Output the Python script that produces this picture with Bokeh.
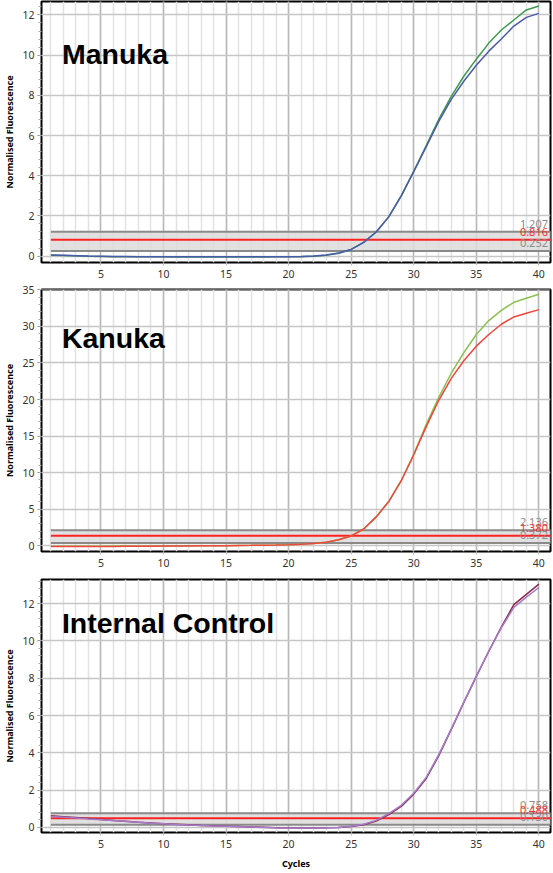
from bokeh.plotting import figure
from bokeh.layouts import column
from bokeh.models import Range1d, SingleIntervalTicker, Label, ColumnDataSource
from bokeh.core.properties import value
from bokeh.embed import file_html
from bokeh.resources import INLINE

CYCLES = list(range(1, 41))

MANUKA_BLUE = [0.05, 0.04, 0.02, 0.0, -0.01, -0.02, -0.02, -0.03, -0.03, -0.03,
               -0.04, -0.04, -0.04, -0.04, -0.04, -0.04, -0.04, -0.04, -0.03, -0.03,
               -0.02, 0.0, 0.05, 0.15, 0.33, 0.68, 1.2, 1.95, 3.0, 4.2,
               5.45, 6.7, 7.8, 8.7, 9.5, 10.2, 10.8, 11.45, 11.88, 12.08]
MANUKA_GREEN = [0.04, 0.03, 0.01, -0.01, -0.02, -0.03, -0.03, -0.04, -0.04, -0.04,
                -0.05, -0.05, -0.05, -0.05, -0.05, -0.05, -0.05, -0.05, -0.04, -0.04,
                -0.03, -0.01, 0.04, 0.14, 0.33, 0.68, 1.2, 1.95, 3.0, 4.22,
                5.5, 6.8, 7.95, 8.95, 9.8, 10.6, 11.25, 11.75, 12.25, 12.45]
MANUKA_THRESH = [0.252, 0.816, 1.207]

KANUKA_RED = [-0.1, -0.1, -0.1, -0.1, -0.09, -0.08, -0.07, -0.06, -0.05, -0.04,
              -0.03, -0.02, -0.01, 0.0, 0.02, 0.04, 0.06, 0.09, 0.12, 0.16,
              0.22, 0.32, 0.5, 0.82, 1.35, 2.3, 3.95, 6.05, 8.9, 12.45,
              16.3, 19.9, 22.9, 25.3, 27.3, 28.9, 30.3, 31.3, 31.8, 32.3]
KANUKA_GREEN = [-0.05, -0.05, -0.05, -0.05, -0.05, -0.04, -0.04, -0.03, -0.03, -0.02,
                -0.02, -0.01, 0.0, 0.01, 0.02, 0.04, 0.06, 0.09, 0.12, 0.16,
                0.22, 0.32, 0.5, 0.82, 1.35, 2.3, 3.95, 6.05, 8.9, 12.5,
                16.6, 20.3, 23.6, 26.4, 28.9, 30.8, 32.2, 33.3, 33.85, 34.4]
KANUKA_THRESH = [0.372, 1.380, 2.136]

IC_RED = [0.62, 0.57, 0.52, 0.47, 0.42, 0.37, 0.32, 0.27, 0.23, 0.19,
          0.16, 0.13, 0.1, 0.08, 0.06, 0.04, 0.02, 0.0, -0.02, -0.03,
          -0.04, -0.04, -0.03, -0.01, 0.04, 0.14, 0.33, 0.68, 1.12, 1.78,
          2.62, 3.85, 5.25, 6.7, 8.1, 9.45, 10.75, 11.95, 12.5, 13.05]
IC_PURPLE = [0.58, 0.54, 0.5, 0.45, 0.41, 0.36, 0.31, 0.27, 0.22, 0.19,
             0.15, 0.12, 0.09, 0.07, 0.05, 0.03, 0.01, -0.01, -0.03, -0.04,
             -0.04, -0.04, -0.03, -0.01, 0.05, 0.16, 0.37, 0.73, 1.18, 1.83,
             2.68, 3.9, 5.28, 6.72, 8.1, 9.45, 10.7, 11.8, 12.35, 12.87]
IC_THRESH = [0.130, 0.488, 0.758]

X_START, X_END = 0.25, 40.93
FONT = "Noto Sans"


def make_panel(title, title_y, series, colors, thresh, y_range, y_step,
               height, top, bottom, xlabel=None):
    p = figure(width=552, height=height, output_backend="svg", toolbar_location=None,
               x_range=Range1d(X_START, X_END), y_range=Range1d(*y_range),
               min_border_left=35, min_border_right=2, min_border_top=top,
               min_border_bottom=bottom, background_fill_color="white",
               border_fill_color="white")
    p.outline_line_color = "black"
    p.outline_line_width = 2
    p.outline_line_alpha = 1

    p.xaxis.ticker = SingleIntervalTicker(interval=5, num_minor_ticks=5)
    p.yaxis.ticker = SingleIntervalTicker(interval=y_step, num_minor_ticks=5)
    for ax in (p.xaxis[0], p.yaxis[0]):
        ax.axis_line_color = None
        ax.major_label_text_font = FONT
        ax.major_label_text_font_size = "10.5px"
        ax.major_label_text_color = "#333333"
        ax.axis_label_text_font = FONT
        ax.axis_label_text_font_size = "9px"
        ax.axis_label_text_font_style = "bold"
        ax.axis_label_text_color = "black"
    p.xaxis.major_tick_out = 3
    p.xaxis.major_tick_in = 0
    p.xaxis.major_tick_line_color = "#bbbbbb"
    p.xaxis.minor_tick_line_color = None
    p.xaxis.major_label_standoff = 3
    p.yaxis.major_tick_out = 4
    p.yaxis.major_tick_in = 0
    p.yaxis.minor_tick_out = 3
    p.yaxis.minor_tick_in = 0
    p.yaxis.major_tick_line_color = "#888888"
    p.yaxis.minor_tick_line_color = "#aaaaaa"
    p.yaxis.major_label_standoff = 3
    p.yaxis.axis_label = "Normalised Fluorescence"
    p.yaxis.axis_label_standoff = 3
    if xlabel:
        p.xaxis.axis_label = xlabel
        p.xaxis.axis_label_standoff = 6

    p.xgrid.grid_line_color = "#b8b8b8"
    p.xgrid.grid_line_width = 1.5
    p.xgrid.minor_grid_line_color = "#e2e2e2"
    p.xgrid.minor_grid_line_width = 1.5
    p.ygrid.grid_line_color = "#c6c6c6"
    p.ygrid.grid_line_width = 1.5

    # threshold band
    p.quad(left=[CYCLES[0]], right=[X_END + 1], bottom=[thresh[0]], top=[thresh[2]],
           fill_color="#dcdcdc", fill_alpha=0.85, line_color=None)
    p.segment(x0=[CYCLES[0]] * 2, x1=[X_END + 1] * 2, y0=[thresh[0], thresh[2]],
              y1=[thresh[0], thresh[2]], line_color="#8a8a8a", line_width=2)
    p.segment(x0=[CYCLES[0]], x1=[X_END + 1], y0=[thresh[1]], y1=[thresh[1]],
              line_color="#ff2020", line_width=2)

    for ys, c in zip(series, colors):
        p.line(CYCLES, ys, line_color=c, line_width=1.5)

    src = ColumnDataSource(dict(
        x=[X_END] * 3,
        y=[thresh[2], thresh[1], thresh[0]],
        t=["%.3f" % thresh[2], "%.3f" % thresh[1], "%.3f" % thresh[0]],
        c=["#8c8c8c", "#ff2a2a", "#8c8c8c"]))
    p.text(x="x", y="y", text="t", text_color="c", source=src,
           text_font=value(FONT), text_font_size="11px", text_align="right",
           text_baseline="alphabetic", x_offset=-2.5, y_offset=-8)

    p.add_layout(Label(x=1.88, y=title_y, text=title, text_font="Liberation Sans",
                       text_font_style="bold", text_font_size="28.5px",
                       text_color="black", text_baseline="alphabetic"))
    return p


p1 = make_panel("Manuka", 10.08, [MANUKA_GREEN, MANUKA_BLUE], ["#3f9a4f", "#4a5aad"],
                MANUKA_THRESH, (-0.32, 12.67), 2, 283, 1, 21)
p2 = make_panel("Kanuka", 28.4, [KANUKA_GREEN, KANUKA_RED], ["#8cc152", "#f0463c"],
                KANUKA_THRESH, (-0.78, 35.05), 5, 290, 6, 22)
p3 = make_panel("Internal Control", 10.98, [IC_RED, IC_PURPLE], ["#8c2a48", "#a47acb"],
                IC_THRESH, (-0.28, 13.3), 2, 299, 6, 31, xlabel="Cycles")

layout = column(p1, p2, p3, spacing=0)
open("out.html", "w").write(file_html(layout, INLINE))
